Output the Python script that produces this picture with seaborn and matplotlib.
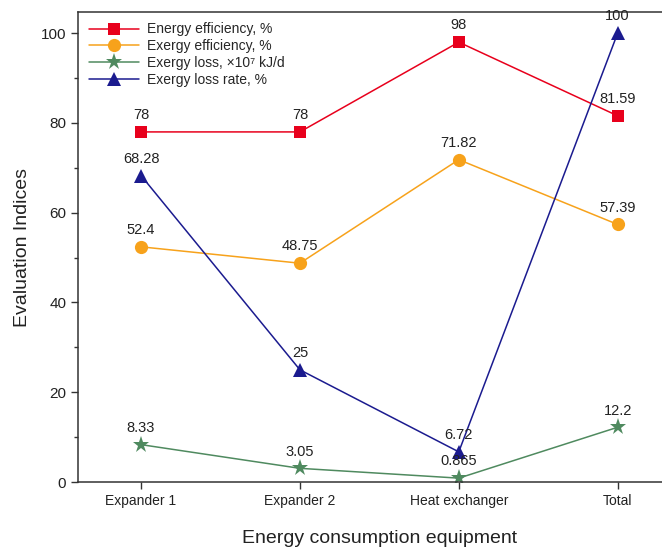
import numpy as np
import pandas as pd
import matplotlib.pyplot as plt
import seaborn as sns
from matplotlib.ticker import MultipleLocator

categories = ['Expander 1', 'Expander 2', 'Heat exchanger', 'Total']
energy_eff = [78, 78, 98, 81.59]
exergy_eff = [52.4, 48.75, 71.82, 57.39]
exergy_loss = [8.33, 3.05, 0.865, 12.2]
exergy_loss_rate = [68.28, 25, 6.72, 100]

labels_eff = ['78', '78', '98', '81.59']
labels_exe = ['52.4', '48.75', '71.82', '57.39']
labels_loss = ['8.33', '3.05', '0.865', '12.2']
labels_rate = ['68.28', '25', '6.72', '100']

sns.set_style('ticks')
plt.rcParams['font.family'] = ['Liberation Sans', 'DejaVu Sans']

fig = plt.figure(figsize=(6.62, 5.49), dpi=100)
ax = fig.add_axes([0.118, 0.122, 0.911, 0.856])

x = np.arange(len(categories))
series = [
    ('Energy efficiency, %', energy_eff, labels_eff, '#e8001c', 's', 8.5),
    ('Exergy efficiency, %', exergy_eff, labels_exe, '#f7a21b', 'o', 9.5),
    ('Exergy loss, ×10\u2077 kJ/d', exergy_loss, labels_loss, '#4f8a5f', '*', 12.5),
    ('Exergy loss rate, %', exergy_loss_rate, labels_rate, '#1b1b8f', '^', 10),
]

for name, vals, labs, col, mk, ms in series:
    sns.lineplot(x=x, y=vals, ax=ax, color=col, marker=mk, markersize=ms,
                 markeredgewidth=0, linewidth=1.1, label=name)
    for xi, v, t in zip(x, vals, labs):
        ax.annotate(t, (xi, v), xytext=(0, 7), textcoords='offset points',
                    ha='center', va='bottom', fontsize=10.5, color='#222222')

ax.set_xlim(-0.396, 3.4)
ax.set_ylim(0, 104.7)
ax.set_xticks(x)
ax.set_xticklabels(categories, fontsize=10, color='#222222')
ax.yaxis.set_major_locator(MultipleLocator(20))
ax.yaxis.set_minor_locator(MultipleLocator(10))
ax.tick_params(axis='y', labelsize=11, labelcolor='#222222', length=5, width=1, color='#333333')
ax.tick_params(axis='y', which='minor', length=3, width=1, color='#333333')
ax.tick_params(axis='x', length=5, width=1, color='#333333')
for s in ax.spines.values():
    s.set_color('#333333')
    s.set_linewidth(1.1)

ax.set_xlabel('Energy consumption equipment', fontsize=14, labelpad=16, color='#222222')
ax.set_ylabel('Evaluation Indices', fontsize=14, labelpad=7, color='#222222')

ax.legend(loc='upper left', frameon=False, fontsize=10, handlelength=3.6,
          labelspacing=0.2, borderaxespad=0.35, handletextpad=0.6)

fig.savefig('out.png', dpi=100)
